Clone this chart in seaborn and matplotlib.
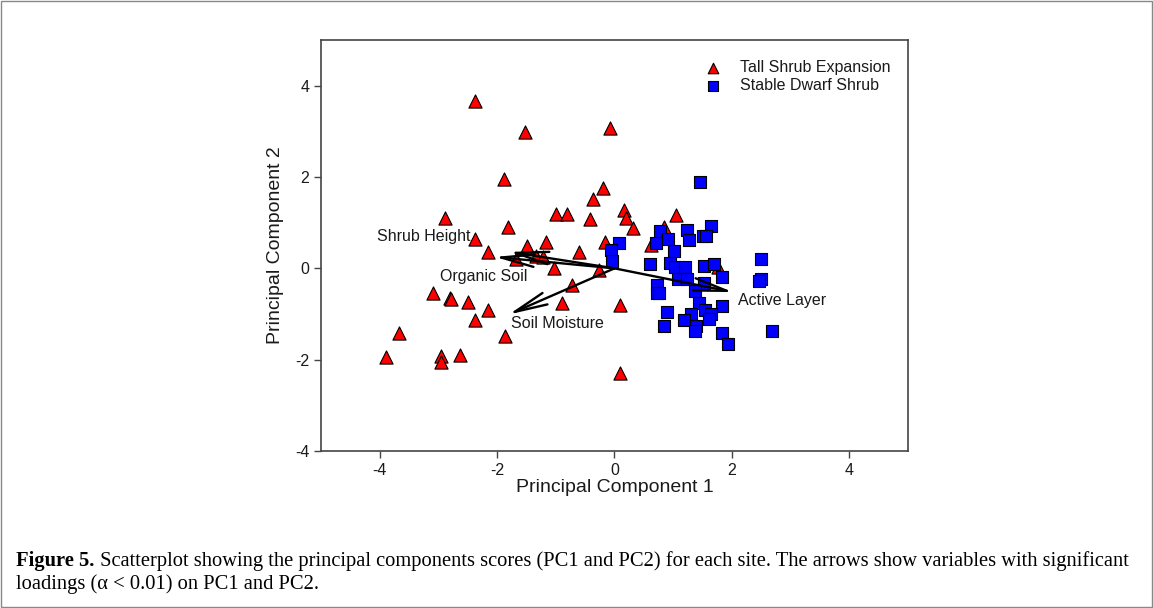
import seaborn as sns
import matplotlib.pyplot as plt
from matplotlib.patches import Rectangle

# PCA scores
tall_pc1 = [-2.37, -1.53, -0.08, -1.89, -0.20, -0.36, 0.17, -2.88, -1.00, -0.81,
            -0.41, 0.19, 1.05, -1.82, 0.32, 0.85, -2.38, -1.17, -0.17, 0.62,
            -1.49, -2.15, -0.61, -1.67, -1.33, -1.22, -1.03, -0.27, 1.76, -0.72,
            -3.09, -2.81, -2.78, -2.49, -0.90, 0.10, -2.15, -2.37, -3.67, -1.87,
            -3.89, -2.96, -2.96, -2.64, 0.10]
tall_pc2 = [3.67, 2.99, 3.07, 1.95, 1.76, 1.52, 1.27, 1.10, 1.20, 1.18,
            1.08, 1.10, 1.16, 0.90, 0.88, 0.90, 0.65, 0.58, 0.58, 0.52,
            0.48, 0.36, 0.35, 0.21, 0.28, 0.25, 0.01, -0.04, 0.04, -0.36,
            -0.54, -0.64, -0.67, -0.74, -0.75, -0.81, -0.92, -1.14, -1.41, -1.49,
            -1.95, -1.92, -2.05, -1.90, -2.29]

dwarf_pc1 = [1.45, 1.65, 1.24, 0.78, 0.91, 1.27, 1.50, 1.56, 0.07, 0.71,
             -0.06, 1.02, -0.05, 0.61, 0.94, 1.03, 1.20, 1.52, 1.70, 2.49,
             1.84, 1.08, 1.23, 1.52, 2.50, 2.46, 0.73, 0.73, 0.75, 1.37,
             1.44, 1.84, 1.54, 1.65, 1.61, 0.89, 1.31, 1.18, 0.85, 1.39,
             1.37, 1.83, 2.69, 1.93]
dwarf_pc2 = [1.89, 0.93, 0.83, 0.81, 0.64, 0.61, 0.70, 0.70, 0.56, 0.55,
             0.41, 0.38, 0.17, 0.09, 0.12, 0.03, 0.04, 0.06, 0.09, 0.20,
             -0.20, -0.23, -0.24, -0.31, -0.23, -0.28, -0.37, -0.54, -0.54, -0.50,
             -0.75, -0.82, -0.92, -0.99, -1.11, -0.95, -1.01, -1.13, -1.27, -1.26,
             -1.38, -1.41, -1.37, -1.66]

# variable loadings (arrow tips)
loading_names = ["Shrub Height", "Organic Soil", "Soil Moisture", "Active Layer"]
loading_pc1 = [-2.04, -1.79, -1.80, 2.02]
loading_pc2 = [0.25, 0.36, -1.01, -0.52]

ticks = [-4, -2, 0, 2, 4]

caption_bold = "Figure 5."
caption_rest = (" Scatterplot showing the principal components scores (PC1 and PC2) "
                "for each site. The arrows show variables with significant")
caption_line2 = "loadings (α < 0.01) on PC1 and PC2."

sns.set_style("ticks")
plt.rcParams['font.family'] = ['Liberation Sans', 'DejaVu Sans']
plt.rcParams['axes.unicode_minus'] = False
plt.rcParams['text.color'] = '#1a1a1a'
plt.rcParams['axes.labelcolor'] = '#1a1a1a'
plt.rcParams['xtick.labelcolor'] = '#1a1a1a'
plt.rcParams['ytick.labelcolor'] = '#1a1a1a'

fig = plt.figure(figsize=(11.53, 6.08), dpi=100)
ax = fig.add_axes([0.2784, 0.2582, 0.5091, 0.676])

sns.scatterplot(x=tall_pc1, y=tall_pc2, marker="^", color="#ff0000", edgecolor="black",
                linewidth=0.8, s=90, label="Tall Shrub Expansion", ax=ax, zorder=3)
sns.scatterplot(x=dwarf_pc1, y=dwarf_pc2, marker="s", color="#0000ff", edgecolor="black",
                linewidth=0.8, s=80, label="Stable Dwarf Shrub", ax=ax, zorder=4)

# loading arrows from the origin
label_offsets = [(-2.0, 0.45), (-1.19, -0.53), (0.04, -0.20), (0.09, -0.19)]
for name, x, y, (dx, dy) in zip(loading_names, loading_pc1, loading_pc2, label_offsets):
    ax.annotate("", xy=(x, y), xytext=(0, 0),
                arrowprops=dict(arrowstyle="->,head_length=1.7,head_width=0.32",
                                color="black", lw=1.7, shrinkA=0, shrinkB=0,
                                mutation_scale=14),
                zorder=5)
    ax.text(x + dx, y + dy, name, fontsize=11.5, va="center", ha="left", zorder=6)

ax.set_xlim(-5, 5)
ax.set_ylim(-4, 5)
ax.set_xticks(ticks)
ax.set_yticks(ticks)
ax.tick_params(labelsize=11.5, length=5, width=1, color="#444444")
for sp in ax.spines.values():
    sp.set_visible(True)
    sp.set_color("#444444")
    sp.set_linewidth(1.2)

ax.set_xlabel("Principal Component 1", fontsize=14, labelpad=1)
ax.set_ylabel("Principal Component 2", fontsize=14, labelpad=8)

ax.legend(loc="upper left", bbox_to_anchor=(0.655, 0.951), frameon=False,
          fontsize=11.5, handlelength=1.0, handletextpad=1.15, labelspacing=0.2,
          borderpad=0, borderaxespad=0, markerscale=0.8)

# caption
serif = ["Liberation Serif", "DejaVu Serif"]
t1 = fig.text(0.014, 1 - 561 / 608, caption_bold, fontsize=14.8, fontweight="bold",
              family=serif, va="center", color="black")
fig.canvas.draw()
bb = t1.get_window_extent()
fig.text(bb.x1 / fig.bbox.width, 1 - 561 / 608, caption_rest, fontsize=14.8,
         family=serif, va="center", color="black")
fig.text(0.014, 1 - 584 / 608, caption_line2, fontsize=14.8,
         family=serif, va="center", color="black")

fig.patches.append(Rectangle((0.0005, 0.001), 0.999, 0.998, transform=fig.transFigure,
                             fill=False, edgecolor="#888888", linewidth=1))

fig.savefig("out.png", dpi=100)
